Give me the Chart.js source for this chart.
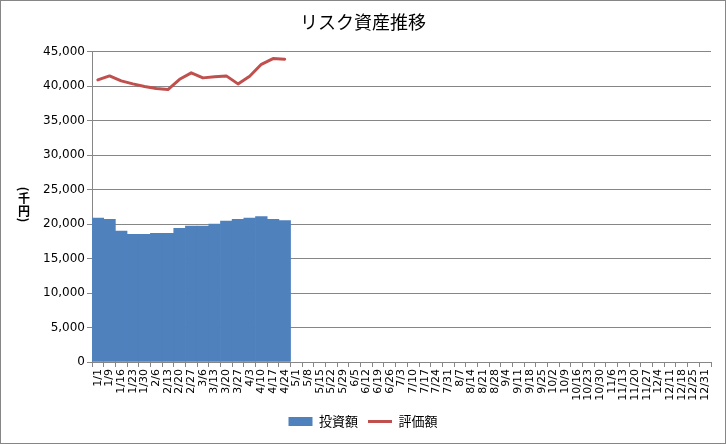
<!DOCTYPE html>
<html>
<head>
<meta charset="utf-8">
<title>リスク資産推移</title>
<script src="https://cdn.jsdelivr.net/npm/chart.js@4.4.0/dist/chart.umd.min.js"></script>
<style>
  html, body { margin: 0; padding: 0; background: #fff; }
</style>
</head>
<body>
<canvas id="risk" width="726" height="444"></canvas>
<script>
// weekly dates (x categories)
const weeks = [
  '1/1', '1/9', '1/16', '1/23', '1/30', '2/6', '2/13', '2/20', '2/27',
  '3/6', '3/13', '3/20', '3/27', '4/3', '4/10', '4/17', '4/24',
  '5/1', '5/8', '5/15', '5/22', '5/29', '6/5', '6/12', '6/19', '6/26',
  '7/3', '7/10', '7/17', '7/24', '7/31', '8/7', '8/14', '8/21', '8/28',
  '9/4', '9/11', '9/18', '9/25', '10/2', '10/9', '10/16', '10/23', '10/30',
  '11/6', '11/13', '11/20', '11/27', '12/4', '12/11', '12/18', '12/25', '12/31'
];

// 投資額 (千円)
const invested = [
  20860, 20670, 18970, 18500, 18500, 18640, 18640, 19370, 19700,
  19700, 19990, 20420, 20670, 20860, 21100, 20670, 20520
];

// 評価額 (千円)
const valuation = [
  40900, 41480, 40760, 40320, 39930, 39640, 39500, 40990, 41920,
  41190, 41340, 41480, 40320, 41430, 43160, 43990, 43890
];

const yMin = 0;
const yMax = 45000;
const yStep = 5000;

const gray = '#868686';

const chartFrame = {
  id: 'chartFrame',
  beforeDraw(chart) {
    const ctx = chart.ctx;
    ctx.save();
    ctx.fillStyle = '#fff';
    ctx.fillRect(0, 0, chart.width, chart.height);
    ctx.restore();
  },
  afterDraw(chart) {
    const ctx = chart.ctx;
    ctx.save();
    ctx.strokeStyle = gray;
    ctx.lineWidth = 1;
    ctx.strokeRect(0.5, 0.5, chart.width - 1, chart.height - 1);
    ctx.restore();
  }
};

// stacked vertical axis title "(千円)"
const yTitle = {
  id: 'yTitle',
  afterDraw(chart) {
    const ctx = chart.ctx;
    const x = 24;
    ctx.save();
    ctx.setTransform(chart.currentDevicePixelRatio, 0, 0, chart.currentDevicePixelRatio, 0, 0);
    ctx.font = 'bold 12px "Noto Sans CJK JP"';
    ctx.fillStyle = '#000';
    ctx.textAlign = 'center';
    ctx.textBaseline = 'middle';
    ctx.fillText('千', x, 198);
    ctx.fillText('円', x, 211);
    [['(', 189], [')', 220]].forEach(([c, y]) => {
      ctx.save();
      ctx.translate(x, y);
      ctx.rotate(Math.PI / 2);
      ctx.fillText(c, 0, 0);
      ctx.restore();
    });
    ctx.restore();
  }
};

const ctx = document.querySelector('#risk');
const riskChart = new Chart(ctx, {
  type: 'bar',
  data: {
    labels: weeks,
    datasets: [
      {
        label: '投資額',
        data: invested,
        backgroundColor: '#4F81BD',
        borderWidth: 0,
        categoryPercentage: 1,
        barPercentage: 1,
        pointStyle: 'rect'
      },
      {
        type: 'line',
        label: '評価額',
        data: valuation,
        borderColor: '#C0504D',
        backgroundColor: '#C0504D',
        borderWidth: 3,
        borderJoinStyle: 'round',
        borderCapStyle: 'round',
        pointRadius: 0,
        tension: 0,
        pointStyle: 'line'
      }
    ]
  },
  options: {
    responsive: false,
    animation: false,
    layout: { padding: { left: 15, right: 15, top: 0, bottom: 6 } },
    plugins: {
      title: {
        display: true,
        text: 'リスク資産推移',
        color: '#000',
        font: { family: '"Noto Sans CJK JP"', size: 18, weight: 'normal' },
        padding: { top: 11, bottom: 19 }
      },
      legend: {
        position: 'bottom',
        labels: {
          usePointStyle: true,
          pointStyleWidth: 24,
          boxHeight: 9,
          padding: 10,
          color: '#000',
          font: { family: '"Noto Sans CJK JP"', size: 13 }
        }
      },
      tooltip: { enabled: false }
    },
    scales: {
      x: {
        grid: { offset: true, drawOnChartArea: false, tickLength: 5, color: gray },
        border: { color: gray },
        ticks: {
          autoSkip: false,
          minRotation: 90,
          maxRotation: 90,
          padding: 2,
          color: '#000',
          font: { family: 'DejaVu Sans', size: 11 }
        },
        afterFit(scale) { scale.height = 43; }
      },
      y: {
        min: yMin,
        max: yMax,
        grid: { color: gray, tickLength: 5 },
        border: { color: gray },
        ticks: {
          stepSize: yStep,
          padding: 2,
          color: '#000',
          font: { family: 'DejaVu Sans', size: 12 },
          callback: (v) => v.toLocaleString('en-US')
        },
        afterFit(scale) { scale.width = 77; }
      }
    }
  },
  plugins: [chartFrame, yTitle]
});
</script>
</body>
</html>
